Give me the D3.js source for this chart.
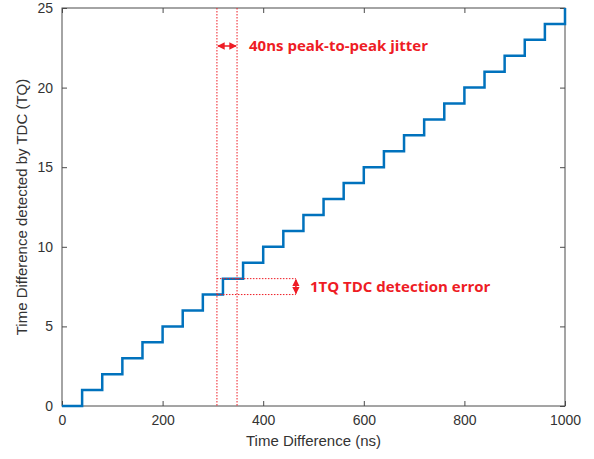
<!DOCTYPE html>
<html>
<head>
<meta charset="utf-8">
<script src="https://cdn.jsdelivr.net/npm/d3@7.9.0/dist/d3.min.js"></script>
<style>
  body { margin: 0; background: #fff; }
  svg { display: block; }
</style>
</head>
<body>
<svg id="chart" width="594" height="459"></svg>
<script>
// TDC output staircase (time difference in ns -> detected TQ)
const timeNs = [0, 40, 80, 120, 160, 200, 240, 280, 320, 360, 400, 440, 480, 520, 560, 600, 640, 680, 720, 760, 800, 840, 880, 920, 960, 1000];
const detectedTQ = [0, 1, 2, 3, 4, 5, 6, 7, 8, 9, 10, 11, 12, 13, 14, 15, 16, 17, 18, 19, 20, 21, 22, 23, 24, 25];

const xTicks = [0, 200, 400, 600, 800, 1000];
const yTicks = [0, 5, 10, 15, 20, 25];

// annotation positions in data units
const jitterLines = [308, 348];
const errorLevels = [7, 8];
const errorLineEnd = 465;

const red = '#ee1c25';
const axisColor = '#4a4a4a';
const textColor = '#333333';
const font = "'Liberation Sans', Arial, sans-serif";

const margin = { top: 8, right: 29, bottom: 53, left: 62 };
const svg = d3.select('#chart');
const width = 594 - margin.left - margin.right;
const height = 459 - margin.top - margin.bottom;

const x = d3.scaleLinear().domain([0, 1000]).range([0, width]);
const y = d3.scaleLinear().domain([0, 25]).range([height, 0]);

const g = svg.append('g').attr('transform', `translate(${margin.left},${margin.top})`);

svg.append('defs').append('marker')
  .attr('id', 'arr')
  .attr('viewBox', '0 0 10 10')
  .attr('refX', 9).attr('refY', 5)
  .attr('markerWidth', 5).attr('markerHeight', 5)
  .attr('orient', 'auto-start-reverse')
  .append('path')
  .attr('d', 'M0,0 L10,5 L0,10 z')
  .attr('fill', red);

// axes with inward ticks, box style
function styleAxis(sel) {
  sel.select('.domain').remove();
  sel.selectAll('line').attr('stroke', axisColor);
  sel.selectAll('text')
    .attr('fill', textColor)
    .style('font-family', font)
    .style('font-size', '14px');
}

const fmt = d3.format('d');

g.append('g')
  .attr('transform', `translate(0,${height})`)
  .call(d3.axisBottom(x).tickValues(xTicks).tickSizeInner(-5).tickSizeOuter(0).tickPadding(9).tickFormat(fmt))
  .call(styleAxis);
g.append('g')
  .call(d3.axisTop(x).tickValues(xTicks).tickSizeInner(-5).tickSizeOuter(0).tickFormat(''))
  .call(styleAxis);
g.append('g')
  .call(d3.axisLeft(y).tickValues(yTicks).tickSizeInner(-5).tickSizeOuter(0).tickPadding(9).tickFormat(fmt))
  .call(styleAxis);
g.append('g')
  .attr('transform', `translate(${width},0)`)
  .call(d3.axisRight(y).tickValues(yTicks).tickSizeInner(-5).tickSizeOuter(0).tickFormat(''))
  .call(styleAxis);

g.append('rect')
  .attr('width', width).attr('height', height)
  .attr('fill', 'none').attr('stroke', axisColor).attr('stroke-width', 1);

// staircase
const stairs = timeNs.map((t, i) => [t, detectedTQ[i]]);
g.append('path')
  .datum(stairs)
  .attr('fill', 'none')
  .attr('stroke', '#0072BD')
  .attr('stroke-width', 2.5)
  .attr('d', d3.line().x(d => x(d[0])).y(d => y(d[1])).curve(d3.curveStepAfter));

// red dotted annotation lines
g.selectAll('.vline')
  .data(jitterLines)
  .join('line')
  .attr('x1', d => x(d)).attr('x2', d => x(d))
  .attr('y1', 0).attr('y2', height)
  .attr('stroke', red).attr('stroke-width', 1)
  .attr('stroke-dasharray', '1.5,1.5');

g.selectAll('.hline')
  .data(errorLevels)
  .join('line')
  .attr('x1', x(jitterLines[0])).attr('x2', x(errorLineEnd))
  .attr('y1', d => y(d)).attr('y2', d => y(d))
  .attr('stroke', red).attr('stroke-width', 1)
  .attr('stroke-dasharray', '1.5,1.5');

// arrows
g.append('line')
  .attr('x1', x(jitterLines[0]) + 1).attr('x2', x(jitterLines[1]) - 1)
  .attr('y1', 38).attr('y2', 38)
  .attr('stroke', red).attr('stroke-width', 1.5)
  .attr('marker-start', 'url(#arr)').attr('marker-end', 'url(#arr)');

g.append('line')
  .attr('x1', x(errorLineEnd)).attr('x2', x(errorLineEnd))
  .attr('y1', y(errorLevels[1]) + 1).attr('y2', y(errorLevels[0]) - 1)
  .attr('stroke', red).attr('stroke-width', 1.5)
  .attr('marker-start', 'url(#arr)').attr('marker-end', 'url(#arr)');

// annotation text
g.append('text')
  .attr('x', x(jitterLines[1]) + 12).attr('y', 38)
  .attr('dy', '0.35em')
  .attr('fill', red)
  .style('font-family', "'Open Sans', sans-serif")
  .style('font-weight', 'bold')
  .style('font-size', '15px')
  .text('40ns peak-to-peak jitter');

g.append('text')
  .attr('x', x(errorLineEnd) + 14).attr('y', (y(errorLevels[0]) + y(errorLevels[1])) / 2)
  .attr('dy', '0.35em')
  .attr('fill', red)
  .style('font-family', "'Open Sans', sans-serif")
  .style('font-weight', 'bold')
  .style('font-size', '15px')
  .text('1TQ TDC detection error');

// axis labels
svg.append('text')
  .attr('x', margin.left + width / 2).attr('y', 446)
  .attr('text-anchor', 'middle')
  .attr('fill', textColor)
  .style('font-family', font)
  .style('font-size', '15px')
  .text('Time Difference (ns)');

svg.append('text')
  .attr('transform', `translate(27,${margin.top + height / 2}) rotate(-90)`)
  .attr('text-anchor', 'middle')
  .attr('fill', textColor)
  .style('font-family', font)
  .style('font-size', '15px')
  .text('Time Difference detected by TDC (TQ)');
</script>
</body>
</html>
